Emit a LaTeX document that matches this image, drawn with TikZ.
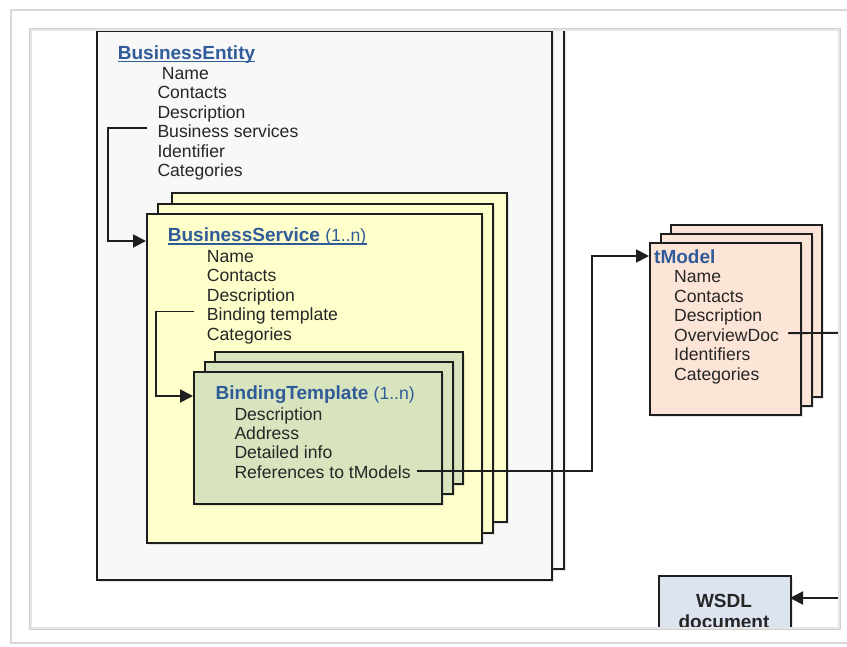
\documentclass[tikz,border=0pt]{standalone}
\usepackage{fontspec}
\setmainfont{Liberation Sans}
\usetikzlibrary{arrows.meta,shadows}

\definecolor{entfill}{HTML}{F8F8F8}
\definecolor{svcfill}{HTML}{FFFFCC}
\definecolor{bindfill}{HTML}{D8E4BE}
\definecolor{tmfill}{HTML}{FCE4D6}
\definecolor{wsdlfill}{HTML}{DCE4F0}
\definecolor{headblue}{HTML}{2F5B98}
\definecolor{ink}{HTML}{262626}
\definecolor{edge}{HTML}{1E1E1E}
\definecolor{framegrey}{HTML}{D8D8D8}

\begin{document}
\begin{tikzpicture}[x=1pt,y=-1pt,
  card/.style={draw=edge, line width=2.2pt, inner sep=0pt, anchor=north west,
    drop shadow={shadow xshift=2pt, shadow yshift=-2pt, opacity=0.2}},
  entitycard/.style={card, fill=entfill, minimum width=455pt, minimum height=549pt},
  servicecard/.style={card, fill=svcfill, minimum width=335pt, minimum height=329pt},
  bindcard/.style={card, fill=bindfill, minimum width=248pt, minimum height=132pt},
  modelcard/.style={card, fill=tmfill, minimum width=151pt, minimum height=172pt},
  doccard/.style={card, fill=wsdlfill, minimum width=132pt, minimum height=90pt},
  field/.style={font=\fontsize{17.6pt}{19.5pt}\selectfont, text=ink, inner sep=0pt, anchor=base west},
  heading/.style={font=\fontsize{19pt}{21pt}\selectfont\bfseries, text=headblue, inner sep=0pt, anchor=base west},
  doclabel/.style={font=\fontsize{19pt}{21pt}\selectfont\bfseries, text=ink, inner sep=0pt, anchor=base},
  headline/.style={draw=headblue, line width=1.5pt},
  link/.style={draw=edge, line width=1.9pt},
  linkarrow/.style={link, -{Triangle[length=13pt,width=13pt]}},
]
\useasboundingbox (0,0) rectangle (847,646);
\fill[white] (0,0) rectangle (847,646);

% outer window frame
\draw[framegrey, line width=1.5pt] (11,10) rectangle (870,643);

\begin{scope}
\clip (30,29) rectangle (839,628);

% ---- BusinessEntity ----
\node[entitycard] (be0) at (108,19) {};
\node[entitycard] (be) at (96,30) {};
\node[heading] (betitle) at (117.7,59) {BusinessEntity};
\draw[headline] ([yshift=-2.7pt]betitle.base west) -- ([yshift=-2.7pt]betitle.base east);
\foreach \t [count=\i] in {Name, Contacts, Description, Business services, Identifier, Categories}
  \node[field] (be\i) at ({157.3+4.4*(\i==1)}, {79+19.55*(\i-1)}) {\t};

% ---- BusinessService stack ----
\node[servicecard] (bs0) at (171,192) {};
\node[servicecard] (bsm) at (157,202.5) {};
\node[servicecard] (bs) at (146,213) {};
\node[heading] (bstitle) at (167.7,241.5)
  {BusinessService {\fontsize{17.6pt}{19.5pt}\selectfont\mdseries(1..n)}};
\draw[headline] ([yshift=-2.5pt]bstitle.base west) -- ([yshift=-2.5pt]bstitle.base east);
\foreach \t [count=\i] in {Name, Contacts, Description, Binding template, Categories}
  \node[field] (bs\i) at (206.7, {262+19.5*(\i-1)}) {\t};

% ---- BindingTemplate stack ----
\node[bindcard] (bt0) at (214,351) {};
\node[bindcard] (btm) at (203.5,361) {};
\node[bindcard] (bt) at (193,371) {};
\node[heading] (bttitle) at (215.5,399.3)
  {BindingTemplate {\fontsize{17.6pt}{19.5pt}\selectfont\mdseries(1..n)}};
\foreach \t [count=\i] in {Description, Address, Detailed info, References to tModels}
  \node[field] (bt\i) at (234.3, {420+19.45*(\i-1)}) {\t};

% ---- tModel stack ----
\node[modelcard] (tm0) at (670,224) {};
\node[modelcard] (tmm) at (659.5,233) {};
\node[modelcard] (tm) at (649,242) {};
\node[heading] (tmtitle) at (654,263.3) {tModel};
\foreach \t [count=\i] in {Name, Contacts, Description, OverviewDoc, Identifiers, Categories}
  \node[field] (tm\i) at (674, {282.7+19.5*(\i-1)}) {\t};

% ---- WSDL document ----
\node[doccard] (wsdl) at (658,575) {};
\node[doclabel] (wsdl1) at (724,607.7) {WSDL};
\node[doclabel] (wsdl2) at (724,628) {document};

% ---- connectors ----
\coordinate (svcin) at (146,241);
\coordinate (bindin) at (193,396);
\coordinate (bend) at (592,256);
\coordinate (tmin) at (649,256);
\coordinate (docout) at (852,332.7);
\coordinate (wsdlsrc) at (852,598);
\coordinate (wsdlin) at (790,598);

\draw[linkarrow] ([xshift=-10pt,yshift=10pt]be4.base west) -- ++(-39,0) |- (svcin);
\draw[linkarrow] ([xshift=-12.5pt,yshift=9pt]bs4.base west) -- ++(-38,0) |- (bindin);
\draw[linkarrow] ([xshift=6pt,yshift=7.5pt]bt4.base east) -| (bend) -- (tmin);
\draw[link] ([xshift=9pt,yshift=8pt]tm4.base east) -- (docout);
\draw[linkarrow] (wsdlsrc) -- (wsdlin);
\end{scope}

% inner panel edge
\draw[black!10, line width=3pt] (30,29) rectangle (839,628);
\draw[black!18, line width=0.8pt] (29,28) rectangle (840,629);
\end{tikzpicture}
\end{document}
